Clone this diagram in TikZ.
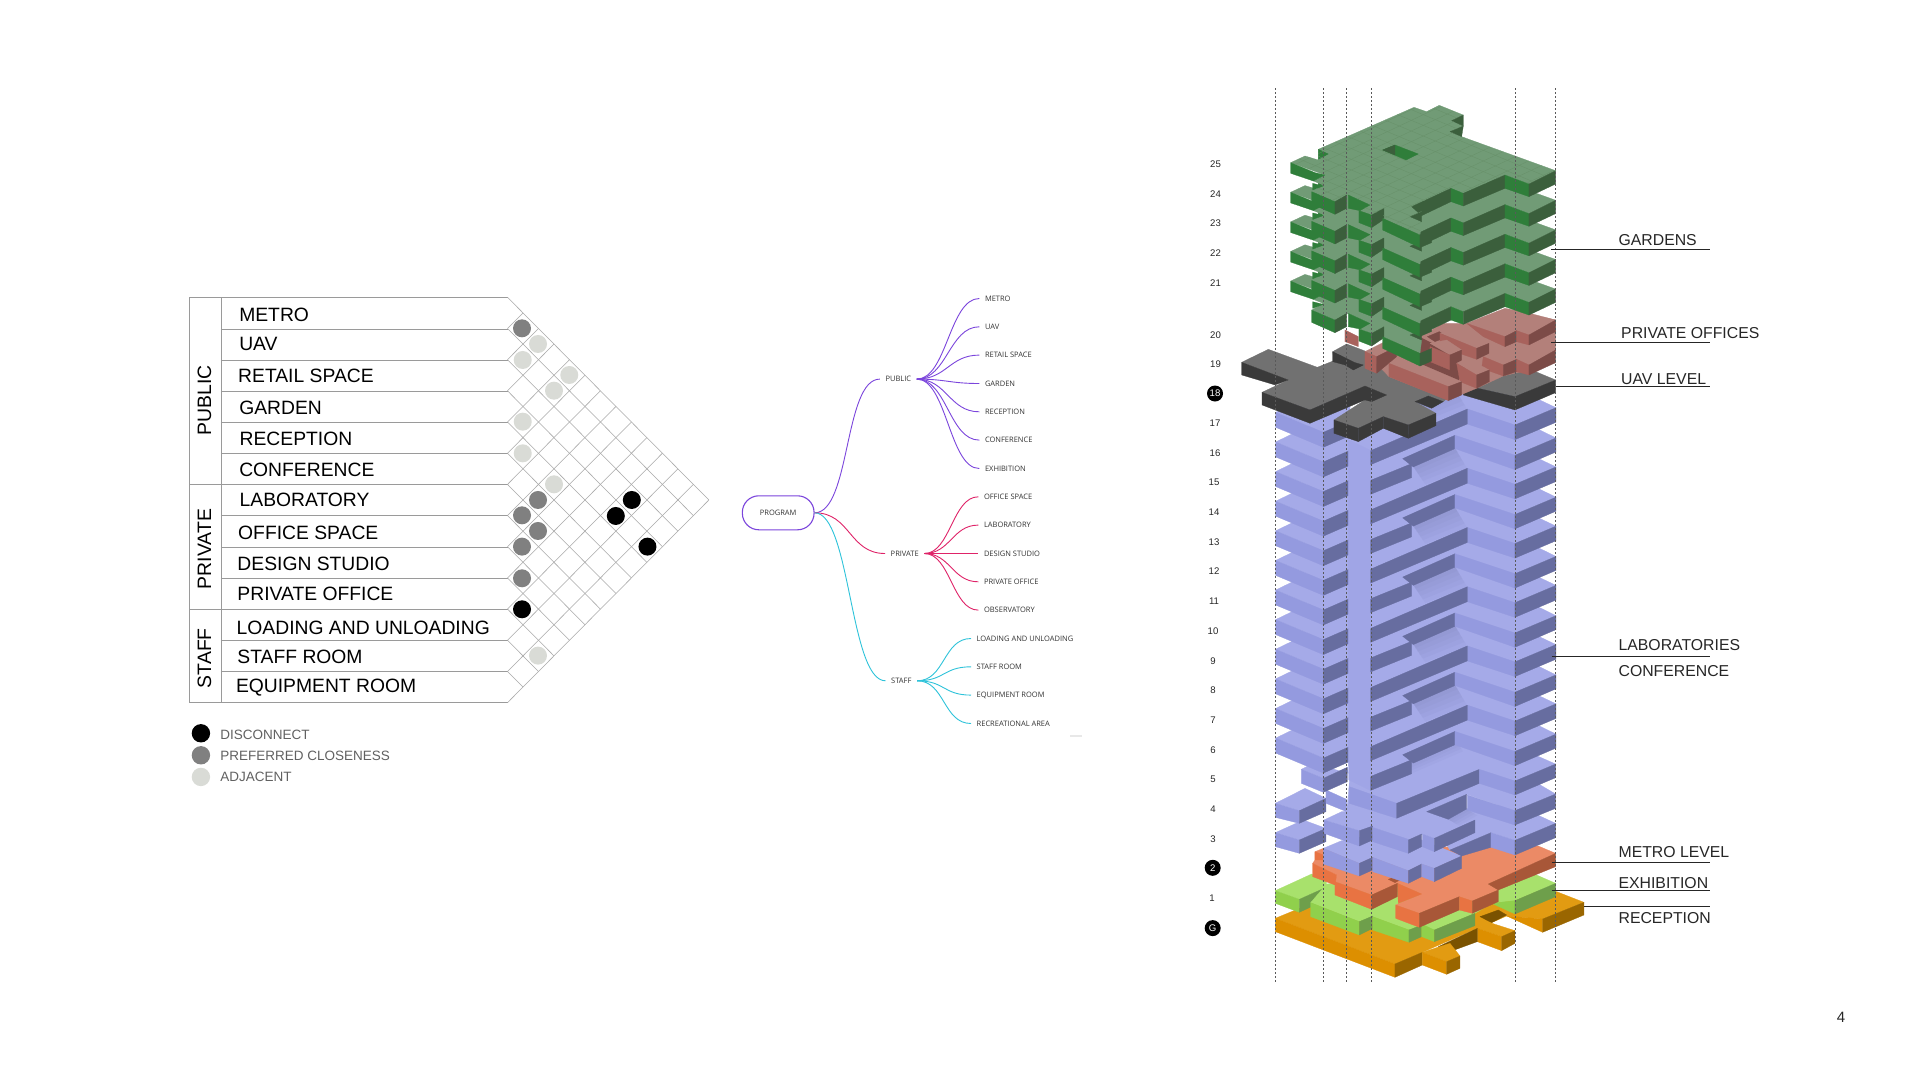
\documentclass[tikz,border=0pt]{standalone}
\usepackage{fontspec}
\setmainfont{Liberation Sans}
\newfontfamily\mapfont{Open Sans}
\newcommand\sz[1]{\fontsize{#1bp}{#1bp}\selectfont}
\definecolor{gT}{HTML}{719B76}\definecolor{gL}{HTML}{2F7E3A}\definecolor{gR}{HTML}{3B5F3C}\definecolor{gG}{HTML}{679069}
\definecolor{rT}{HTML}{B3807A}\definecolor{rL}{HTML}{A8625C}\definecolor{rR}{HTML}{7C4B47}
\definecolor{bT}{HTML}{717171}\definecolor{bL}{HTML}{3A3A3A}
\definecolor{pT}{HTML}{A5AAE8}\definecolor{pL}{HTML}{949ADF}\definecolor{pR}{HTML}{676DA0}\definecolor{pC}{HTML}{A0A5E6}
\definecolor{oT}{HTML}{EB8A66}\definecolor{oL}{HTML}{E87342}\definecolor{oR}{HTML}{A85738}
\definecolor{lT}{HTML}{A8E16C}\definecolor{lL}{HTML}{90D04C}\definecolor{lR}{HTML}{6E9F4B}
\definecolor{aT}{HTML}{E29B12}\definecolor{aL}{HTML}{DD8F00}\definecolor{aR}{HTML}{9A6600}\definecolor{aD}{HTML}{7A5200}
\definecolor{mapP}{HTML}{7B45DC}\definecolor{mapR}{HTML}{DF2368}\definecolor{mapC}{HTML}{2EC3DA}
\definecolor{tb}{HTML}{9A9A9A}\definecolor{dm}{HTML}{808080}\definecolor{dl}{HTML}{D9DBD6}
\newcommand\pfill[2]{\path[fill=#1,draw=#1,line width=0.25bp,line join=round] plot[sharp cycle] coordinates {#2};}
% purple floor parts, local coordinates: zero at the tip of the centre wing
\newcommand\pwing{%
 \pfill{pT}{(77,-115) (180,-165) (300,-165) (300,-90) (220,-55)}
 \pfill{pL}{(77,-115) (220,-55) (220,-10) (77,-70)}
 \pfill{pR}{(220,-55) (300,-90) (300,-45) (220,-10)}}
\newcommand\pcore[1]{\pfill{pC}{(296,-32) (362,0) (362,#1) (296,#1-32)}}
\newcommand\pshadow{%
 \foreach \s in {12,24,36,48,60}{\fill[pR,opacity=0.055] (490,-130) -- (615,-185) -- ({615+0.6*\s},{-185+\s}) -- ({490+0.6*\s},{-130+\s*0.9}) -- cycle;}}
\newcommand\plong{%
 \pfill{pT}{(296,-32) (362,0) (652,-125) (795,-77) (918,-129) (790,-190) (600,-225) (296,-120)}
 \pshadow
 \pfill{pL}{(652,-125) (795,-77) (795,-33) (652,-80)}
 \pfill{pR}{(795,-77) (918,-129) (918,-85) (795,-33)}}
\newcommand\pshort{%
 \pfill{pT}{(296,-32) (362,0) (485,-50) (458,-65) (615,-135) (795,-75) (918,-127) (790,-190) (600,-225) (296,-120)}
 \pfill{pR}{(458,-65) (615,-135) (615,-95) (490,-40)}
 \pfill{pL}{(615,-135) (795,-75) (795,-32) (615,-95)}
 \pfill{pR}{(795,-75) (918,-127) (918,-85) (795,-32)}}
\newcommand\gtop{(302,248) (345,228) (385,240) (385,208) (672,82) (710,95) (748,76) (820,105) (785,122) (820,138) (780,155) (815,170) (1097,272) (1017,312) (945,285) (820,340) (783,325) (665,380) (695,395) (660,410) (695,425) (690,465) (578,415) (582,385) (545,405) (507,392) (540,375) (475,345) (435,365) (365,335) (400,315) (370,303) (405,285)}
\newcommand\gfaces{%
 \pfill{gL}{(385,208) (415,222) (385,238)}
 \pfill{gR}{(785,122) (820,105) (820,138)}
 \pfill{gR}{(780,155) (820,138) (815,170)}
 \pfill{gL}{(302,248) (375,278) (405,285) (370,303) (302,280)}
 \pfill{gL}{(368,310) (400,318) (368,330)}
 \pfill{gL}{(365,335) (435,365) (435,403) (365,372)}
 \pfill{gR}{(435,365) (470,345) (470,385) (435,403)}
 \pfill{gL}{(475,345) (540,375) (510,392) (475,385)}
 \pfill{gL}{(507,392) (545,405) (545,443) (507,428)}
 \pfill{gR}{(545,405) (582,385) (582,418) (545,443)}
 \pfill{gR}{(665,380) (783,325) (783,365) (695,407)}
 \pfill{gR}{(660,410) (695,395) (695,425)}
 \pfill{gL}{(578,415) (690,465) (690,503) (578,450)}
 \pfill{gR}{(690,465) (725,450) (725,488) (690,503)}
 \pfill{gL}{(783,325) (820,340) (820,378) (783,365)}
 \pfill{gR}{(820,340) (945,285) (945,325) (820,378)}
 \pfill{gL}{(945,285) (1017,312) (1017,350) (945,325)}
 \pfill{gR}{(1017,312) (1097,272) (1097,312) (1017,350)}}
\tikzset{
 tline/.style={draw=tb,line width=0.8bp},
 gridline/.style={draw=tb!85,line width=0.55bp},
 rowlab/.style={anchor=west,inner sep=0pt,font=\sz{19.3},text=black},
 grouplab/.style={rotate=90,inner sep=0pt,font=\sz{19.4},text=black},
 leglab/.style={anchor=west,inner sep=0pt,font=\sz{13.5},text=black!62},
 maplab/.style={inner sep=0pt,inner xsep=5.5bp,font=\mapfont\sz{7.5},text=black!80},
 leaf/.style={maplab,anchor=west},
 link/.style={line width=0.9bp,out=0,in=180,distance=#1},
 flab/.style={inner sep=0pt,font=\sz{9.6},text=black!85},
 fdot/.style={circle,fill=black,text=white,inner sep=0pt,minimum size=16bp,font=\sz{9.6}},
 callout/.style={anchor=west,inner sep=0pt,font=\sz{15.8},text=black!85},
 leader/.style={draw=black!85,line width=0.9bp},
 guide/.style={draw=black!65,line width=0.7bp,dash pattern=on 2bp off 2bp}
}
\begin{document}
\begin{tikzpicture}[x=1bp,y=-1bp]
\path[fill=white,use as bounding box] (0,0) rectangle (1921,1080);

% --- adjacency table
\draw[tline] (189.3,297.3) rectangle (220.9,702.7);
\foreach \y in {297.3,484.3,609.3,702.7} \draw[tline] (189.3,\y) -- (507.5,\y);
\foreach \y in {329.3,360,391.3,422.3,453.3,515.3,547,578.3,640.3,671.3} \draw[tline] (220.9,\y) -- (507.5,\y);
\foreach \k in {0,...,13}{
 \pgfmathsetmacro\yk{297.3+31.18*\k}
 \draw[gridline] (507.5,\yk) -- ++({(13-\k)*15.49},{(13-\k)*15.59});
 \draw[gridline] (507.5,\yk) -- ++({\k*15.49},{-\k*15.59});
}
\begin{scope}[shift={(170,280)},x=0.36364bp,y=-0.3333bp]
\foreach \a/\b in {968/145,1012/660,968/706,1012/753,968/800,968/895} \fill[dm] (\a,\b) circle[radius=9bp];
\foreach \a/\b in {1012/192,970/240,1098/285,1056/332,970/425,970/520,1056/613,1012/1127} \fill[dl] (\a,\b) circle[radius=9bp];
\foreach \a/\b in {968/988,1270/660,1226/708,1313/800} \fill[black] (\a,\b) circle[radius=9bp];
\end{scope}
\begin{scope}[shift={(170,281)},x=0.36364bp,y=-0.3333bp]
\node[rowlab] (t1) at (190,102) {METRO};
\node[rowlab] (t2) at (190,190) {UAV};
\node[rowlab] (t3) at (187,285) {RETAIL SPACE};
\node[rowlab] (t4) at (190,380) {GARDEN};
\node[rowlab] (t5) at (191,473) {RECEPTION};
\node[rowlab] (t6) at (190,567) {CONFERENCE};
\node[rowlab] (t7) at (191,658) {LABORATORY};
\node[rowlab] (t8) at (187,757) {OFFICE SPACE};
\node[rowlab] (t9) at (185,850) {DESIGN STUDIO};
\node[rowlab] (t10) at (185,940) {PRIVATE OFFICE};
\node[rowlab] (t11) at (183,1040) {LOADING AND UNLOADING};
\node[rowlab] (t12) at (185,1127) {STAFF ROOM};
\node[rowlab] (t13) at (181,1220) {EQUIPMENT ROOM};
\node[grouplab] (gpub) at (95,358) {PUBLIC};
\node[grouplab] (gpri) at (95,804) {PRIVATE};
\node[grouplab] (gsta) at (95,1132) {STAFF};
\fill[black] (85,1357) circle[radius=9.2bp];
\fill[dm] (85,1423) circle[radius=9.2bp];
\fill[dl] (85,1488) circle[radius=9.2bp];
\node[leglab] (l1) at (138,1361) {DISCONNECT};
\node[leglab] (l2) at (138,1424) {PREFERRED CLOSENESS};
\node[leglab] (l3) at (138,1487) {ADJACENT};
\end{scope}

% --- mind map
\begin{scope}[shift={(0,0.8)}]
\node[draw=mapP,line width=1.1bp,rounded corners=16.5bp,minimum width=71.7bp,minimum height=34bp,inner sep=0pt,font=\mapfont\sz{7.5},text=black!80] (prog) at (778.2,512) {PROGRAM};
\node[maplab] (pub) at (898.3,378.3) {PUBLIC};
\node[maplab] (pri) at (904.7,552.7) {PRIVATE};
\node[maplab] (sta) at (901.3,680) {STAFF};
\draw[mapP,link=36bp] (prog.east) to (pub.west);
\draw[mapR,link=36bp] (prog.east) to (pri.west);
\draw[mapC,link=36bp] (prog.east) to (sta.west);
\foreach \n/\t/\y in {a/METRO/297.7,b/UAV/326,c/RETAIL SPACE/354.3,d/GARDEN/382.7,e/RECEPTION/411,f/CONFERENCE/439.3,g/EXHIBITION/467.7}{
 \node[leaf] (m\n) at (979.3,\y) {\t};
 \draw[mapP,link=30bp] (pub.east) to (m\n.west);
}
\foreach \n/\t/\y in {a/OFFICE SPACE/496,b/LABORATORY/524.3,c/DESIGN STUDIO/552.7,d/PRIVATE OFFICE/581,e/OBSERVATORY/609.3}{
 \node[leaf] (r\n) at (978.3,\y) {\t};
 \draw[mapR,link=26bp] (pri.east) to (r\n.west);
}
\foreach \n/\t/\y in {a/LOADING AND UNLOADING/637.7,b/STAFF ROOM/666,c/EQUIPMENT ROOM/694.3,d/RECREATIONAL AREA/722.7}{
 \node[leaf] (s\n) at (971,\y) {\t};
 \draw[mapC,link=28bp] (sta.east) to (s\n.west);
}
\end{scope}
\fill[black!9] (1070,735) rectangle (1082,737);

% --- tower, lower levels (crop coordinates x3)
\begin{scope}[shift={(1190,740)},x=0.3333bp,y=-0.3333bp]
% ground
\pfill{aT}{(256,535) (365,490) (700,440) (1100,455) (1182,487) (1058,537) (950,528) (905,548) (862,565) (697,637) (615,672)}
\pfill{aL}{(950,528) (1058,537) (1058,577)}
\pfill{aR}{(1058,537) (1182,487) (1182,525) (1058,577)}
\pfill{aD}{(870,530) (925,510) (950,525) (905,548)}
\pfill{aT}{(862,565) (900,548) (975,572) (935,590)}
\pfill{aL}{(862,565) (935,590) (935,632) (862,605)}
\pfill{aR}{(935,590) (975,572) (975,610) (935,632)}
\pfill{aD}{(745,620) (862,565) (862,605) (780,635)}
\pfill{aL}{(256,535) (615,672) (615,712) (256,575)}
\pfill{aR}{(615,672) (697,637) (697,675) (615,712)}
\pfill{aT}{(697,637) (780,610) (810,648) (770,665)}
\pfill{aL}{(697,637) (770,665) (770,703) (697,675)}
\pfill{aR}{(770,665) (810,648) (810,685) (770,703)}
% level 1
\pfill{lT}{(256,452) (365,402) (410,425) (408,442) (328,478)}
\pfill{lL}{(256,452) (328,478) (328,517) (256,490)}
\pfill{lR}{(328,478) (408,442) (408,480) (328,517)}
\pfill{lT}{(362,488) (410,432) (700,400) (1040,405) (1097,430) (975,482) (905,490) (855,520) (733,570) (695,555) (657,570) (548,530) (508,545)}
\pfill{lL}{(905,490) (975,482) (975,522)}
\pfill{lR}{(975,482) (1097,430) (1097,470) (975,522)}
\pfill{lL}{(362,488) (508,545) (508,585) (362,530)}
\pfill{lR}{(508,545) (548,528) (548,565) (508,585)}
\pfill{lL}{(548,530) (657,570) (657,607) (548,570)}
\pfill{lR}{(657,570) (695,555) (695,590) (657,607)}
\pfill{lL}{(695,552) (733,570) (733,605) (695,590)}
\pfill{lR}{(733,570) (855,520) (855,557) (733,605)}
% level 2
\pfill{oT}{(375,335) (400,325) (1045,318) (1097,340) (895,432) (925,450) (847,483) (808,470) (688,520) (617,495) (695,462) (622,430) (545,465) (435,425) (440,405) (368,370) (375,360)}
\pfill{oL}{(622,430) (695,462) (625,490)}
\pfill{oL}{(375,335) (400,345) (400,360) (375,360)}
\pfill{oL}{(368,370) (440,405) (435,435) (368,410)}
\pfill{oL}{(435,425) (545,465) (545,508) (435,465)}
\pfill{oR}{(545,465) (622,430) (622,470) (545,508)}
\pfill{oL}{(617,495) (688,520) (688,562) (617,535)}
\pfill{oR}{(688,520) (808,470) (808,510) (688,562)}
\pfill{oL}{(808,470) (847,483) (847,520) (808,510)}
\pfill{oR}{(847,483) (925,450) (925,485) (847,520)}
\pfill{oR}{(895,432) (1097,340) (1097,380) (925,450)}
\pfill{oR}{(595,418) (615,410) (630,420) (615,428)}
% purple block above level 2
\pfill{pT}{(400,325) (455,302) (620,270) (815,348) (733,385) (695,372) (655,392) (548,352) (508,370)}
\pfill{pL}{(400,325) (508,370) (508,408) (400,372)}
\pfill{pR}{(508,370) (548,352) (548,390) (508,408)}
\pfill{pL}{(548,352) (655,392) (655,430) (548,395)}
\pfill{pR}{(655,392) (695,372) (695,410) (655,430)}
\pfill{pL}{(695,372) (733,385) (733,425) (695,410)}
\pfill{pR}{(733,385) (815,348) (815,385) (733,425)}
% level 3
\pfill{pT}{(256,278) (340,240) (408,265) (328,300)}
\pfill{pL}{(256,278) (328,300) (328,340) (256,320)}
\pfill{pR}{(328,300) (408,265) (408,305) (328,340)}
\pfill{pT}{(780,330) (903,278) (975,301) (1097,250) (1000,205) (880,190) (790,220) (760,300)}
\pfill{pR}{(780,330) (903,278) (903,322) (815,348)}
\pfill{pL}{(903,278) (975,301) (975,345) (903,322)}
\pfill{pR}{(975,301) (1097,250) (1097,293) (975,345)}
\pfill{pT}{(402,240) (455,215) (700,190) (855,240) (733,295) (697,282) (655,300) (548,262) (508,272)}
\pfill{pL}{(402,240) (508,272) (508,318) (402,280)}
\pfill{pR}{(508,272) (548,258) (548,300) (508,318)}
\pfill{pL}{(548,262) (655,298) (655,340) (548,305)}
\pfill{pR}{(655,300) (695,282) (695,320) (655,340)}
\pfill{pL}{(697,282) (733,295) (733,335) (697,320)}
\pfill{pR}{(733,295) (855,240) (855,278) (733,335)}
% level 4
\pfill{pT}{(256,190) (345,145) (408,175) (328,212)}
\pfill{pL}{(256,190) (328,212) (328,250) (256,232)}
\pfill{pR}{(328,212) (408,175) (408,215) (328,250)}
\pfill{pL}{(408,150) (470,178) (470,215) (408,190)}
\pfill{pT}{(470,215) (560,240) (640,250) (710,215) (830,163) (975,212) (1097,162) (975,90) (600,90) (478,130)}
\foreach \s in {8,16,24,32}{\fill[pR,opacity=0.06] (775,238) -- (830,207) -- ({830+\s},{207+\s*0.6}) -- ({775+\s},{238+\s*0.6}) -- cycle;}
\pfill{pR}{(710,215) (830,163) (830,207) (775,238)}
\pfill{pL}{(832,165) (975,212) (975,255) (832,210)}
\pfill{pR}{(975,212) (1097,162) (1097,205) (975,255)}
% level 5
\pfill{pT}{(334,88) (370,70) (475,100) (472,82) (400,115)}
\pfill{pL}{(334,88) (400,115) (400,157) (334,130)}
\pfill{pR}{(400,115) (472,82) (472,125) (400,157)}
\pfill{pT}{(478,140) (620,190) (868,88) (975,123) (1097,72) (990,25) (880,-30) (600,-30) (478,70)}
\foreach \s in {8,16,24,32,40}{\fill[pR,opacity=0.055] (640,65) -- (795,-6) -- ({795+0.6*\s},{-6+\s}) -- ({640+0.6*\s},{65+\s*0.9}) -- cycle;}
\pfill{pL}{(478,140) (620,190) (620,235) (478,190)}
\pfill{pR}{(620,190) (868,88) (868,130) (620,235)}
\pfill{pL}{(868,88) (975,123) (975,165) (868,130)}
\pfill{pR}{(975,123) (1097,72) (1097,113) (975,165)}
\end{scope}

% --- typical purple levels 6..17
\begin{scope}[shift={(1250,400)},x=0.3333bp,y=-0.3333bp]
\foreach \n in {6,...,17}{
 \pgfmathsetmacro\yy{152+88.85*(17-\n)}
 \begin{scope}[shift={(0,\yy)}]
  \pwing
  \ifodd\n \plong \else \pshort \fi
  \ifnum\n=6 \pcore{42} \else \pcore{89} \fi
  \ifodd\n \pfill{pR}{(362,0) (652,-125) (652,-80) (362,42)}\else \pfill{pR}{(362,0) (485,-50) (485,-8) (362,42)}\fi
 \end{scope}
}
\end{scope}

% --- levels 18 to 25
\begin{scope}[shift={(1190,80)},x=0.3333bp,y=-0.3333bp]
% level 18
\pfill{bT}{(155,847) (235,808) (382,862) (432,842) (428,815) (470,792) (700,880) (900,860) (1025,870) (1097,900) (975,950) (820,915) (760,965) (715,948) (675,965) (738,1000) (655,1035) (580,1010) (505,1045) (432,1020) (525,960) (590,945) (525,918) (360,990) (216,937) (295,900)}
\pfill{bL}{(428,815) (495,848) (520,855) (490,870) (465,855) (428,845)}
\pfill{bL}{(155,847) (295,900) (255,915) (155,885)}
\pfill{bL}{(216,937) (360,990) (360,1030) (216,975)}
\pfill{bL}{(360,990) (525,918) (590,945) (545,965) (525,960) (360,1030)}
\pfill{bL}{(432,1020) (505,1045) (505,1085) (432,1060)}
\pfill{bL}{(505,1045) (580,1010) (580,1045) (505,1085)}
\pfill{bL}{(580,1010) (655,1035) (655,1075) (580,1045)}
\pfill{bL}{(655,1035) (738,1000) (738,1037) (655,1075)}
\pfill{bL}{(820,915) (975,950) (975,990) (820,945)}
\pfill{bL}{(975,950) (1097,900) (1097,938) (975,990)}
\pfill{bL}{(675,965) (715,948) (760,965) (725,985)}
% levels 19 and 20
\pfill{rL}{(465,750) (505,770) (505,800) (465,785)}
\pfill{rT}{(525,815) (700,760) (1000,700) (1097,720) (1097,810) (1017,870) (940,888) (860,925) (775,960) (597,890)}
\pfill{rR}{(620,800) (700,770) (830,860) (800,910) (700,860)}
\pfill{rT}{(525,815) (585,785) (620,800) (560,830)}
\pfill{rL}{(525,815) (560,830) (560,880) (525,865)}
\pfill{rR}{(560,830) (620,800) (620,830) (560,880)}
\pfill{rT}{(800,830) (940,800) (1020,790) (1097,810) (1017,855) (980,838) (940,855) (880,830)}
\pfill{rL}{(880,830) (940,855) (940,888) (875,865)}
\pfill{rR}{(940,855) (980,838) (980,875) (940,888)}
\pfill{rL}{(980,838) (1017,855) (1017,885) (980,875)}
\pfill{rR}{(1017,855) (1097,810) (1097,848) (1017,885)}
\pfill{rT}{(690,770) (760,730) (830,730) (945,685) (1000,695) (1097,720) (1017,765) (980,752) (945,770) (900,800) (750,800)}
\pfill{rL}{(830,730) (945,770) (945,800) (880,770)}
\pfill{rR}{(945,770) (980,752) (980,785) (945,800)}
\pfill{rL}{(980,752) (1017,765) (1017,795) (980,785)}
\pfill{rR}{(1017,765) (1097,720) (1097,755) (1017,795)}
\pfill{rR}{(712,770) (748,755) (775,770) (735,785)}
\pfill{rT}{(750,760) (790,742) (897,790) (860,805)}
\pfill{rL}{(750,760) (860,805) (860,838) (750,800)}
\pfill{rR}{(860,805) (897,790) (897,820) (860,838)}
\pfill{rT}{(720,790) (770,780) (815,810) (780,825)}
\pfill{rL}{(720,800) (780,825) (780,870) (720,845)}
\pfill{rR}{(780,825) (815,810) (815,850) (780,870)}
\pfill{rT}{(800,850) (830,835) (898,870) (860,885)}
\pfill{rL}{(800,850) (860,885) (860,925) (810,905)}
\pfill{rR}{(860,885) (898,870) (898,905) (860,925)}
\pfill{rT}{(597,850) (640,830) (815,905) (775,920)}
\pfill{rL}{(597,850) (775,920) (775,962) (597,890)}
\pfill{rR}{(775,920) (815,905) (815,945) (775,962)}
% levels 21 to 25
\foreach \k in {4,3,2,1,0}{
 \begin{scope}[shift={(0,{88.8*\k})}]
 \pfill{gT}{\gtop}
 \gfaces
 \end{scope}
}
\begin{scope}
 \clip plot[sharp cycle] coordinates {\gtop};
 \foreach \i in {-16,...,16}{
  \draw[gG,line width=0.3bp] ({700+36*\i},{200-17*\i}) -- ++(800,333) -- ++(-1600,-666);
  \draw[gG,line width=0.3bp] ({700+36*\i},{200+15*\i}) -- ++(800,-378) -- ++(-1600,756);
 }
\end{scope}
\pfill{gL}{(578,210) (615,195) (685,222) (648,240)}
\pfill{gR}{(578,210) (615,195) (615,225)}
\end{scope}

% --- vertical guides
\foreach \x in {1275.3,1323.7,1346.7,1371,1515,1555.7} \draw[guide] (\x,88) -- (\x,982);

% --- level numbers
\begin{scope}[shift={(0,0.8)}]
\foreach \n/\x/\y in {25/1215.5/163.3,24/1215.5/193.3,23/1215.5/222.7,22/1215.5/252.7,21/1215.5/282.3,20/1215.5/334,19/1215.5/363.3,17/1215/422.7,16/1215/452,15/1214/481.7,14/1214/511.4,13/1214/541,12/1214/570.8,11/1214/600.5,10/1213/630,9/1213/660,8/1213/689.6,7/1213/719.3,6/1213/749,5/1213/778.7,4/1213/808.4,3/1213/838,1/1212/897.3}
 \node[flab] (f\n) at (\x,\y) {\n};
\node[fdot] (f18) at (1215,392.7) {18};
\node[fdot] (f2) at (1212.7,867) {2};
\node[fdot] (fG) at (1212.7,927.3) {G};
\end{scope}

% --- callouts
\begin{scope}[shift={(0,0.8)}]
\node[callout] (c1) at (1618.4,239) {GARDENS};
\node[callout] (c2) at (1621,332) {PRIVATE OFFICES};
\node[callout] (c3) at (1621,378.5) {UAV LEVEL};
\node[callout] (c4) at (1618.4,644) {LABORATORIES};
\node[callout] (c5) at (1618.4,670) {CONFERENCE};
\node[callout] (c6) at (1618.4,851.5) {METRO LEVEL};
\node[callout] (c7) at (1618.4,882) {EXHIBITION};
\node[callout] (c8) at (1618.4,917.5) {RECEPTION};
\end{scope}
\coordinate (a1) at (1551,249.3); \coordinate (b1) at (1710,249.3);
\coordinate (a2) at (1551,342); \coordinate (b2) at (1710,342);
\coordinate (a3) at (1555.7,386.7); \coordinate (b3) at (1710,386.7);
\coordinate (a4) at (1551.7,656); \coordinate (b4) at (1710,656);
\coordinate (a6) at (1551.7,862.3); \coordinate (b6) at (1710,862.3);
\coordinate (a7) at (1551.7,890); \coordinate (b7) at (1710,890);
\coordinate (a8) at (1584.3,906); \coordinate (b8) at (1710,906);
\foreach \i in {1,2,3,4,6,7,8} \draw[leader] (a\i) -- (b\i);

\node[inner sep=0pt,font=\sz{15},text=black!85] (pageno) at (1841,1017.5) {4};
\end{tikzpicture}
\end{document}
